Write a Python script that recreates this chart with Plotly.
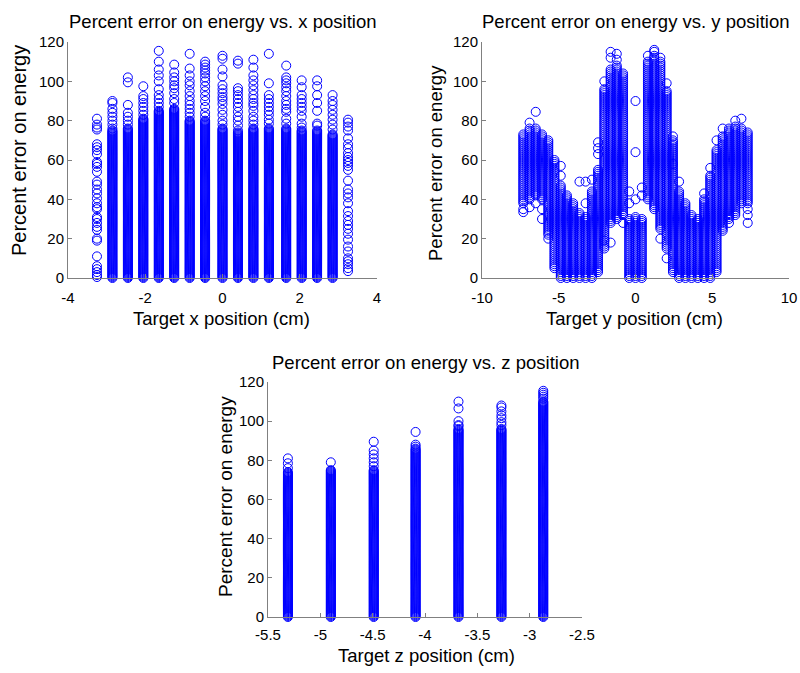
import plotly.graph_objects as go

# Levels at which the solid (heavily over-plotted) bands of points are drawn
levels_fine = [0, 0.5, 1, 1.5, 2, 2.5, 3, 3.5, 4, 4.5, 5, 5.5, 6, 6.5, 7, 7.5, 8, 8.5, 9, 9.5,
               10, 10.5, 11, 11.5, 12, 12.5, 13, 13.5, 14, 14.5, 15, 15.5, 16, 16.5, 17, 17.5,
               18, 18.5, 19, 19.5, 20, 20.5, 21, 21.5, 22, 22.5, 23, 23.5, 24, 24.5, 25, 25.5,
               26, 26.5, 27, 27.5, 28, 28.5, 29, 29.5, 30, 30.5, 31, 31.5, 32, 32.5, 33, 33.5,
               34, 34.5, 35, 35.5, 36, 36.5, 37, 37.5, 38, 38.5, 39, 39.5, 40, 40.5, 41, 41.5,
               42, 42.5, 43, 43.5, 44, 44.5, 45, 45.5, 46, 46.5, 47, 47.5, 48, 48.5, 49, 49.5,
               50, 50.5, 51, 51.5, 52, 52.5, 53, 53.5, 54, 54.5, 55, 55.5, 56, 56.5, 57, 57.5,
               58, 58.5, 59, 59.5, 60, 60.5, 61, 61.5, 62, 62.5, 63, 63.5, 64, 64.5, 65, 65.5,
               66, 66.5, 67, 67.5, 68, 68.5, 69, 69.5, 70, 70.5, 71, 71.5, 72, 72.5, 73, 73.5,
               74, 74.5, 75, 75.5, 76, 76.5, 77, 77.5, 78, 78.5, 79, 79.5, 80, 80.5, 81, 81.5,
               82, 82.5, 83, 83.5, 84, 84.5, 85, 85.5, 86, 86.5, 87, 87.5, 88, 88.5, 89, 89.5,
               90, 90.5, 91, 91.5, 92, 92.5, 93, 93.5, 94, 94.5, 95, 95.5, 96, 96.5, 97, 97.5,
               98, 98.5, 99, 99.5, 100, 100.5, 101, 101.5, 102, 102.5, 103, 103.5, 104, 104.5,
               105, 105.5, 106, 106.5, 107, 107.5, 108, 108.5, 109, 109.5, 110, 110.5, 111,
               111.5, 112, 112.5, 113, 113.5, 114, 114.5, 115, 115.5, 116]
levels_y = [0, 1, 2, 3, 4, 5, 6, 7, 8, 9, 10, 11, 12, 13, 14, 15, 16, 17, 18, 19,
            20, 21, 22, 23, 24, 25, 26, 27, 28, 29, 30, 31, 32, 33, 34, 35, 36, 37, 38, 39,
            40, 41, 42, 43, 44, 45, 46, 47, 48, 49, 50, 51, 52, 53, 54, 55, 56, 57, 58, 59,
            60, 61, 62, 63, 64, 65, 66, 67, 68, 69, 70, 71, 72, 73, 74, 75, 76, 77, 78, 79,
            80, 81, 82, 83, 84, 85, 86, 87, 88, 89, 90, 91, 92, 93, 94, 95, 96, 97, 98, 99,
            100, 101, 102, 103, 104, 105, 106, 107, 108, 109, 110, 111, 112, 113, 114, 115, 116]

# ---- Panel 1: error vs. target x position ----
x_pos = [-3.25, -2.85, -2.45, -2.05, -1.65, -1.25, -0.85, -0.45, 0.0,
         0.4, 0.8, 1.2, 1.65, 2.05, 2.45, 2.85, 3.25]
x_band_lo = [None, 0, 0, 0, 0, 0, 0, 0, 0, 0, 0, 0, 0, 0, 0, 0, None]
x_band_hi = [None, 75, 76, 81, 85, 86, 80, 80, 76, 74, 76, 76, 76, 75, 75, 73, None]
x_extra = [
    [81, 78, 76.5, 75.5, 68, 66.5, 65, 63, 59, 58, 56.5, 54, 49, 47.5, 45, 43, 40.5, 38,
     36, 35, 31, 30, 28, 26, 24.5, 20, 19, 11, 6, 4.5, 3, 1.5, 0.5],
    [90, 89, 86, 84, 82, 80, 78, 76],
    [102, 99.5, 88, 84, 82, 80, 78],
    [97.5, 92.5, 91, 89, 87, 85, 83],
    [115.5, 110, 106, 103, 100, 96, 93, 91, 89, 87],
    [108.5, 104.5, 102, 100, 98, 96.5, 94, 91, 89],
    [114, 106.5, 103, 100, 98, 95, 92.5, 90, 88, 86, 84, 82],
    [110, 108.5, 107, 105.5, 104, 102, 100, 97.5, 95, 92.5, 90, 87, 84, 82],
    [113, 111.5, 106, 102.5, 98, 96, 94, 92, 90.5, 88.5, 85.5, 83, 80, 78],
    [110.5, 109, 96.5, 95, 93, 91, 89, 87, 84.5, 82, 80, 77.5, 75],
    [111, 107, 103, 100.5, 98, 95.5, 93, 91, 89, 87.5, 85, 82, 80, 78],
    [114, 99, 93, 91, 89, 87, 85, 83, 80.5, 78.5],
    [108, 102, 100.5, 99, 97, 95, 92.5, 90, 88, 86, 84.5, 81, 78.5],
    [100.5, 97, 93, 91, 89, 87, 85, 82, 78.5, 76.5],
    [100.5, 97.5, 93, 89, 85, 78.5, 77.5],
    [93, 90, 88, 85.5, 83, 80.5, 78, 75.5],
    [80.5, 79, 77, 75, 71, 68, 66, 63.5, 61.5, 60, 58.5, 57, 55, 49.5, 45, 43, 41, 38,
     34, 31.5, 29, 27, 25, 22.5, 19.5, 16, 13.5, 10, 8.5, 7, 5, 3.5],
]

# ---- Panel 2: error vs. target y position ----
y_pos = [-7.31, -6.9, -6.5, -6.09, -5.68, -5.28, -4.87, -4.47, -4.06, -3.65, -3.25,
         -2.84, -2.44, -2.03, -1.62, -1.22, -0.81, -0.41, 0.0, 0.41, 0.81, 1.22, 1.62,
         2.03, 2.44, 2.84, 3.25, 3.65, 4.06, 4.47, 4.87, 5.28, 5.68, 6.09, 6.5, 6.9, 7.31]
y_band_lo = [38, 40, 42, 40, 22, 5, 0, 0, 0, 0, 0, 0, 3, 15, 28, 30, 32, 0, 0,
             0, 40, 35, 25, 15, 3, 0, 0, 0, 0, 0, 0, 3, 24, 30, 32, 38, 38]
y_band_hi = [73, 76, 76, 73, 70, 60, 47, 42, 38, 33, 31, 44, 55, 96, 106, 108, 104, 30, 31,
             30, 110, 113, 110, 95, 70, 44, 38, 32, 30, 40, 52, 65, 72, 76, 77, 76, 74]
y_extra = [
    [35, 33.5], [79, 36], [84.5, 38], [35, 30], [20], [], [57, 52], [], [], [49],
    [49, 38], [50], [63, 66, 69], [100, 19], [112, 115, 18], [111, 114], [28],
    [44, 38], [90, 64, 40], [46, 42], [113], [116, 115], [112, 20], [99, 10],
    [72, 58], [49], [], [], [], [43], [56], [70], [76], [28], [80], [81], [35, 32, 28],
]

# ---- Panel 3: error vs. target z position ----
z_pos = [-5.31, -4.9, -4.49, -4.09, -3.68, -3.27, -2.87]
z_band_lo = [0, 0, 0, 0, 0, 0, 0]
z_band_hi = [74, 75, 75, 86, 96, 96, 110]
z_extra = [
    [81, 78.5, 76],
    [79],
    [89.5, 85, 83, 81, 79, 77],
    [94.5, 88, 87],
    [110, 106.5, 100, 98, 97.5],
    [108, 107, 105, 103, 101.5, 99.5, 98],
    [115.5, 114.5, 113.5, 112.5, 111.5],
]

x_tick_vals = [-4, -2, 0, 2, 4]
x_tick_text = ["-4", "-2", "0", "2", "4"]
y_tick_vals = [-10, -5, 0, 5, 10]
y_tick_text = ["-10", "-5", "0", "5", "10"]
z_tick_vals = [-5.5, -5, -4.5, -4, -3.5, -3, -2.5]
z_tick_text = ["-5.5", "-5", "-4.5", "-4", "-3.5", "-3", "-2.5"]
err_tick_vals = [0, 20, 40, 60, 80, 100, 120]
err_tick_text = ["0", "20", "40", "60", "80", "100", "120"]

titles = ["Percent error on energy vs. x position",
          "Percent error on energy vs. y position",
          "Percent error on energy vs. z position"]
x_titles = ["Target x position (cm)", "Target y position (cm)", "Target z position (cm)"]
y_title = "Percent error on energy"


def column_points(positions, lo, hi, extra, grid):
    xs, ys = [], []
    for p, a, b, e in zip(positions, lo, hi, extra):
        vals = [] if a is None else [v for v in grid if a <= v <= b]
        vals = vals + list(e)
        xs += [p] * len(vals)
        ys += vals
    return xs, ys


W, H = 800, 673
FONT = "Liberation Sans, Arial, Helvetica, sans-serif"
marker = dict(symbol="circle-open", size=9, color="#0000ff", line=dict(width=1))

fig = go.Figure()
panels = [
    (x_pos, x_band_lo, x_band_hi, x_extra, levels_fine, "x", "y"),
    (y_pos, y_band_lo, y_band_hi, y_extra, levels_y, "x2", "y2"),
    (z_pos, z_band_lo, z_band_hi, z_extra, levels_fine, "x3", "y3"),
]
for pos, lo, hi, ex, grid, xa, ya in panels:
    xs, ys = column_points(pos, lo, hi, ex, grid)
    fig.add_trace(go.Scatter(x=xs, y=ys, mode="markers", marker=marker,
                             xaxis=xa, yaxis=ya, cliponaxis=False,
                             showlegend=False, hoverinfo="skip"))


def py(p):
    return 1 - p / H


def px(p):
    return p / W


axis_common = dict(showline=True, linecolor="#808080", linewidth=1, mirror=False,
                   ticks="inside", ticklen=4, tickcolor="#808080", showgrid=False,
                   zeroline=False, automargin=False,
                   tickfont=dict(family=FONT, size=15, color="black"))

fig.update_layout(
    template="none",
    width=W, height=H, margin=dict(l=0, r=0, t=0, b=0, pad=0, autoexpand=False),
    paper_bgcolor="white", plot_bgcolor="white", showlegend=False,
    xaxis=dict(domain=[px(68), px(377)], range=[-4, 4], tickvals=x_tick_vals,
               ticktext=x_tick_text, anchor="y", ticklabelstandoff=6, **axis_common),
    yaxis=dict(domain=[py(278), py(42)], range=[0, 120], tickvals=err_tick_vals,
               ticktext=err_tick_text, anchor="x", **axis_common),
    xaxis2=dict(domain=[px(482), px(789)], range=[-10, 10], tickvals=y_tick_vals,
                ticktext=y_tick_text, anchor="y2", ticklabelstandoff=6, **axis_common),
    yaxis2=dict(domain=[py(278), py(42)], range=[0, 120], tickvals=err_tick_vals,
                ticktext=err_tick_text, anchor="x2", **axis_common),
    xaxis3=dict(domain=[px(268), px(582)], range=[-5.5, -2.5], tickvals=z_tick_vals,
                ticktext=z_tick_text, anchor="y3", ticklabelstandoff=4, **axis_common),
    yaxis3=dict(domain=[py(617), py(382)], range=[0, 120], tickvals=err_tick_vals,
                ticktext=err_tick_text, anchor="x3", **axis_common),
)

ann = []
title_pos = [(222, 22), (635, 22), (425, 362)]
xt_pos = [(221, 318), (634, 318), (427, 655)]
yt_pos = [(19, 151), (435, 163), (225, 497)]
for t, (tx, ty) in zip(titles, title_pos):
    ann.append(dict(text=t, x=px(tx), y=py(ty), xref="paper", yref="paper",
                    xanchor="center", yanchor="middle", showarrow=False,
                    font=dict(family=FONT, size=18.5, color="black")))
for t, (tx, ty) in zip(x_titles, xt_pos):
    ann.append(dict(text=t, x=px(tx), y=py(ty), xref="paper", yref="paper",
                    xanchor="center", yanchor="middle", showarrow=False,
                    font=dict(family=FONT, size=18.5, color="black")))
for (tx, ty), s in zip(yt_pos, [20, 18.5, 19]):
    ann.append(dict(text=y_title, x=px(tx), y=py(ty), xref="paper", yref="paper",
                    xanchor="center", yanchor="middle", showarrow=False, textangle=-90,
                    font=dict(family=FONT, size=s, color="black")))
fig.update_layout(annotations=ann)

fig.write_html("out.html", config={"displayModeBar": False},
               post_script="document.body.style.margin='0';document.body.style.padding='0';")
